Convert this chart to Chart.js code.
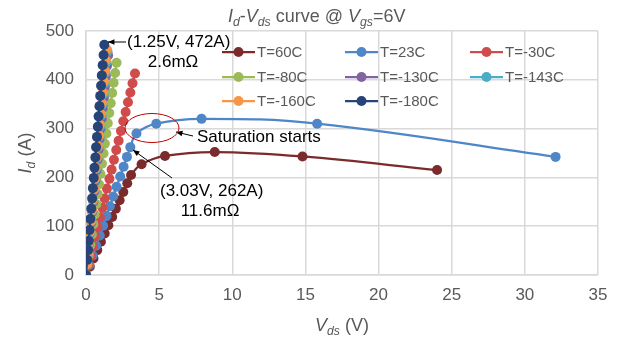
<!DOCTYPE html>
<html>
<head>
<meta charset="utf-8">
<script src="https://cdn.jsdelivr.net/npm/chart.js@4.4.1/dist/chart.umd.min.js"></script>
<style>
  html, body { margin: 0; padding: 0; background: #fff; }
  #wrap { width: 619px; height: 343px; position: relative; }
</style>
</head>
<body>
<div id="wrap"><canvas id="ivChart" width="619" height="343"></canvas></div>
<script>
// series values: Vds (V) and Id (A)
var labels = ['T=60C', 'T=23C', 'T=-30C', 'T=-80C', 'T=-130C', 'T=-143C', 'T=-160C', 'T=-180C'];
var colors = ['#7B2B2B', '#4E86C8', '#D04B4B', '#9BBB59', '#8064A2', '#4BACC6', '#F79646', '#264478'];

var v60 = [0, 0.26, 0.51, 0.77, 1.02, 1.28, 1.53, 1.79, 2.04, 2.30, 2.55, 2.82, 3.08, 3.8, 5.4, 8.8, 14.8, 24.0];
var i60 = [0, 17, 34, 51, 68, 85, 102, 119, 136, 153, 170, 188, 205, 227, 244, 252, 243, 215];

var v23 = [0, 0.23, 0.46, 0.69, 0.94, 1.17, 1.40, 1.63, 1.86, 2.09, 2.34, 2.57, 2.80, 3.03, 3.45, 4.8, 7.9, 15.8, 32.1];
var i23 = [0, 20, 40, 60, 81, 101, 121, 141, 161, 181, 202, 222, 242, 262, 290, 310, 320, 310, 242];

var vm30 = [0, 0.16, 0.32, 0.48, 0.64, 0.79, 0.96, 1.12, 1.27, 1.43, 1.60, 1.75, 1.91, 2.07, 2.23, 2.39, 2.55, 2.71, 2.87, 3.03, 3.18, 3.35];
var im30 = [0, 20, 39, 59, 79, 98, 118, 138, 157, 177, 197, 216, 236, 256, 275, 295, 315, 334, 354, 374, 393, 413];

var vm80 = [0, 0.10, 0.20, 0.30, 0.40, 0.50, 0.60, 0.70, 0.80, 0.89, 0.99, 1.09, 1.20, 1.29, 1.39, 1.49, 1.59, 1.69, 1.79, 1.89, 1.99, 2.09];
var im80 = [0, 21, 41, 62, 83, 104, 124, 145, 166, 186, 207, 228, 249, 269, 290, 311, 332, 352, 373, 394, 414, 435];

var vm130 = [0, 0.07, 0.14, 0.21, 0.29, 0.36, 0.43, 0.50, 0.57, 0.65, 0.72, 0.79, 0.86, 0.93, 1.00, 1.08, 1.15, 1.22, 1.29, 1.36, 1.44, 1.51];
var im130 = [0, 21, 43, 64, 86, 107, 129, 150, 171, 193, 214, 236, 257, 279, 300, 321, 343, 364, 386, 407, 429, 450];

var vm143 = [0, 0.07, 0.14, 0.21, 0.28, 0.35, 0.42, 0.49, 0.56, 0.63, 0.70, 0.77, 0.84, 0.91, 0.98, 1.05, 1.12, 1.19, 1.26, 1.32, 1.40, 1.47];
var im143 = [0, 22, 44, 65, 87, 109, 131, 153, 175, 196, 218, 240, 262, 284, 305, 327, 349, 371, 393, 414, 436, 458];

var vm160 = [0, 0.07, 0.14, 0.20, 0.27, 0.34, 0.41, 0.48, 0.55, 0.61, 0.68, 0.75, 0.82, 0.89, 0.95, 1.02, 1.09, 1.16, 1.23, 1.30, 1.36, 1.43];
var im160 = [0, 22, 44, 66, 88, 110, 132, 154, 176, 198, 220, 242, 264, 286, 308, 330, 352, 374, 396, 418, 440, 462];

var vm180 = [0, 0.08, 0.14, 0.19, 0.24, 0.30, 0.36, 0.42, 0.47, 0.53, 0.58, 0.64, 0.69, 0.75, 0.81, 0.86, 0.92, 0.97, 1.03, 1.08, 1.14, 1.20, 1.25];
var im180 = [0, 31, 51, 70, 92, 115, 136, 157, 178, 199, 220, 241, 262, 283, 304, 325, 346, 367, 388, 409, 430, 451, 472];

var xTicks = [0, 5, 10, 15, 20, 25, 30, 35];
var yTicks = [0, 100, 200, 300, 400, 500];

var FONT = '"Liberation Sans", Arial, sans-serif';
var GREY = '#595959';

function pts(vs, is) {
    return vs.map(function(v, k) { return {x: v, y: is[k]}; });
}

var seriesV = [v60, v23, vm30, vm80, vm130, vm143, vm160, vm180];
var seriesI = [i60, i23, im30, im80, im130, im143, im160, im180];

var datasets = labels.map(function(lab, k) {
    return {
        label: lab,
        data: pts(seriesV[k], seriesI[k]),
        borderColor: colors[k],
        backgroundColor: colors[k],
        pointBackgroundColor: colors[k],
        pointBorderColor: colors[k],
        pointRadius: 5,
        pointBorderWidth: 0,
        borderWidth: 2.25,
        tension: 0.4,
        order: labels.length - k  // later series on top, like the sheet
    };
});

// draw text made of pieces: [text, italic, sub]
function richWidth(ctx, parts, size) {
    var w = 0;
    parts.forEach(function(p) {
        var s = p[2] ? size * 0.68 : size;
        ctx.font = (p[1] ? 'italic ' : '') + s + 'px ' + FONT;
        w += ctx.measureText(p[0]).width;
    });
    return w;
}
function richText(ctx, parts, x, y, size) {
    ctx.textBaseline = 'alphabetic';
    ctx.textAlign = 'left';
    parts.forEach(function(p) {
        var s = p[2] ? size * 0.68 : size;
        ctx.font = (p[1] ? 'italic ' : '') + s + 'px ' + FONT;
        ctx.fillText(p[0], x, p[2] ? y + size * 0.22 : y);
        x += ctx.measureText(p[0]).width;
    });
}

function arrow(ctx, x0, y0, x1, y1) {
    var a = Math.atan2(y1 - y0, x1 - x0);
    ctx.beginPath();
    ctx.moveTo(x0, y0);
    ctx.lineTo(x1, y1);
    ctx.stroke();
    ctx.beginPath();
    ctx.moveTo(x1, y1);
    ctx.lineTo(x1 - 7 * Math.cos(a - 0.4), y1 - 7 * Math.sin(a - 0.4));
    ctx.lineTo(x1 - 7 * Math.cos(a + 0.4), y1 - 7 * Math.sin(a + 0.4));
    ctx.closePath();
    ctx.fill();
}

var decorations = {
    id: 'decorations',
    afterDraw: function(chart) {
        var ctx = chart.ctx;
        var area = chart.chartArea;
        ctx.save();

        // title
        ctx.fillStyle = GREY;
        var title = [['I', true], ['d', true, true], ['-', false], ['V', true], ['ds', true, true],
                     [' curve @ ', false], ['V', true], ['gs', true, true], ['=6V', false]];
        richText(ctx, title, 228, 22, 18);

        // axis titles
        var xt = [['V', true], ['ds', true, true], [' (V)', false]];
        var w = richWidth(ctx, xt, 18);
        richText(ctx, xt, (area.left + area.right) / 2 - w / 2, 331, 18);

        var yt = [['I', true], ['d', true, true], [' (A)', false]];
        w = richWidth(ctx, yt, 18);
        ctx.save();
        ctx.translate(31, (area.top + area.bottom) / 2);
        ctx.rotate(-Math.PI / 2);
        richText(ctx, yt, -w / 2, 0, 18);
        ctx.restore();

        // legend, drawn over the plot
        var cols = [222, 345, 470];
        var rows = [52, 77, 101];
        ctx.font = '15px ' + FONT;
        ctx.textBaseline = 'middle';
        ctx.textAlign = 'left';
        labels.forEach(function(lab, k) {
            var x = cols[k % 3], y = rows[Math.floor(k / 3)];
            ctx.strokeStyle = colors[k];
            ctx.fillStyle = colors[k];
            ctx.lineWidth = 2.25;
            ctx.beginPath();
            ctx.moveTo(x, y);
            ctx.lineTo(x + 33, y);
            ctx.stroke();
            ctx.beginPath();
            ctx.arc(x + 16.5, y, 5, 0, Math.PI * 2);
            ctx.fill();
            ctx.fillStyle = GREY;
            ctx.fillText(lab, x + 35, y + 1);
        });

        // annotations
        ctx.strokeStyle = '#000';
        ctx.fillStyle = '#000';
        ctx.lineWidth = 1;
        arrow(ctx, 126, 42, 108, 42);
        arrow(ctx, 193, 136, 176, 132);
        arrow(ctx, 172, 178, 133, 150);

        ctx.font = '17px ' + FONT;
        ctx.textBaseline = 'middle';
        ctx.textAlign = 'left';
        ctx.fillText('(1.25V, 472A)', 127, 42);
        ctx.fillText('Saturation starts', 197, 137);
        ctx.fillText('(3.03V, 262A)', 160, 191);
        ctx.textAlign = 'center';
        ctx.fillText('2.6m\u03A9', 173, 62);
        ctx.fillText('11.6m\u03A9', 210, 211);

        ctx.strokeStyle = '#C00000';
        ctx.beginPath();
        ctx.ellipse(152, 128, 27, 14.5, 0, 0, Math.PI * 2);
        ctx.stroke();

        ctx.restore();
    }
};

var chart = new Chart(document.getElementById('ivChart').getContext('2d'), {
    type: 'line',
    data: { datasets: datasets },
    options: {
        responsive: false,
        animation: false,
        layout: { padding: { top: 31, right: 21, left: 0, bottom: 0 } },
        plugins: {
            legend: { display: false },
            title: { display: false },
            tooltip: { enabled: false }
        },
        scales: {
            x: {
                type: 'linear',
                min: 0,
                max: 35,
                afterBuildTicks: function(scale) {
                    scale.ticks = xTicks.map(function(v) { return {value: v}; });
                },
                afterFit: function(scale) { scale.height = 68; },
                ticks: { color: GREY, font: { size: 17, family: FONT }, padding: 10 },
                grid: { color: '#D9D9D9', lineWidth: 1.5, drawTicks: false },
                border: { color: '#D9D9D9', width: 1.5 }
            },
            y: {
                type: 'linear',
                min: 0,
                max: 500,
                afterBuildTicks: function(scale) {
                    scale.ticks = yTicks.map(function(v) { return {value: v}; });
                },
                afterFit: function(scale) { scale.width = 86; },
                ticks: { color: GREY, font: { size: 17, family: FONT }, padding: 12 },
                grid: { color: '#D9D9D9', lineWidth: 1.5, drawTicks: false },
                border: { color: '#D9D9D9', width: 1.5 }
            }
        }
    },
    plugins: [decorations]
});
</script>
</body>
</html>
